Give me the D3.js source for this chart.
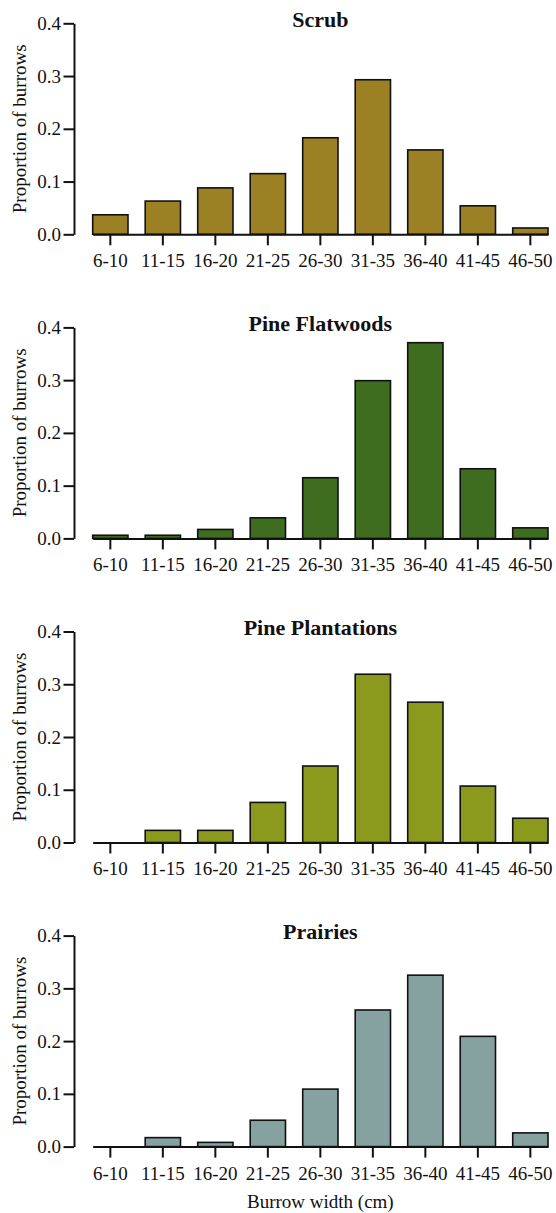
<!DOCTYPE html>
<html>
<head>
<meta charset="utf-8">
<script src="https://cdn.jsdelivr.net/npm/d3@7"></script>
<style>
  html, body { margin: 0; padding: 0; background: #fff; }
  svg { display: block; }
  text { font-family: "Liberation Serif", "Times New Roman", serif; fill: #111; }
</style>
</head>
<body>
<script>
// ---- data ----
const categories = ["6-10","11-15","16-20","21-25","26-30","31-35","36-40","41-45","46-50"];
const habitats = ["Scrub","Pine Flatwoods","Pine Plantations","Prairies"];
const scrubValues       = [0.037,0.063,0.088,0.115,0.183,0.293,0.160,0.054,0.012];
const flatwoodsValues   = [0.006,0.006,0.017,0.039,0.115,0.299,0.371,0.132,0.020];
const plantationValues  = [0.000,0.023,0.023,0.076,0.145,0.319,0.266,0.107,0.046];
const prairieValues     = [0.000,0.017,0.008,0.050,0.109,0.259,0.325,0.209,0.026];
const seriesValues = [scrubValues, flatwoodsValues, plantationValues, prairieValues];
const yTicks = [0, 0.1, 0.2, 0.3, 0.4];
const yTitle = "Proportion of burrows";
const xTitle = "Burrow width (cm)";

// ---- styles / layout ----
const colors = ["#9b8024", "#3e6d1f", "#8b9a1c", "#86a2a0"];
const W = 556, H = 1213;
const axisX = 74;
const barLeft = 92.7, barRight = 548;
const panelTop0 = 23.3, panelStep = 304.1, panelH = 211;

const svg = d3.select("body").append("svg").attr("width", W).attr("height", H);

const x = d3.scaleBand().domain(categories).range([barLeft, barRight])
  .paddingInner(0.328).paddingOuter(0);

habitats.forEach((name, i) => {
  const top = panelTop0 + i * panelStep;
  const bottom = top + panelH;
  const y = d3.scaleLinear().domain([0, 0.4]).range([bottom, top]);
  const g = svg.append("g");

  // bars
  const data = categories.map((c, j) => ({c, v: seriesValues[i][j]})).filter(d => d.v > 0);
  g.selectAll("rect").data(data).join("rect")
    .attr("x", d => x(d.c))
    .attr("y", d => y(d.v))
    .attr("width", x.bandwidth())
    .attr("height", d => y(0) - y(d.v))
    .attr("fill", colors[i])
    .attr("stroke", "#111")
    .attr("stroke-width", 1.6);

  // y axis
  const ya = g.append("g").attr("transform", `translate(${axisX},0)`)
    .call(d3.axisLeft(y).tickValues(yTicks).tickFormat(d3.format(".1f"))
      .tickSize(10.5).tickPadding(2.5).tickSizeOuter(0));
  ya.select(".domain").attr("stroke", "#111").attr("stroke-width", 2);
  ya.selectAll(".tick line").attr("stroke", "#111").attr("stroke-width", 2);
  ya.selectAll(".tick text").attr("font-size", 19).attr("font-family", "Liberation Serif, serif").attr("fill", "#111");

  // x axis
  const xa = g.append("g").attr("transform", `translate(0,${bottom})`)
    .call(d3.axisBottom(x).tickSize(11).tickPadding(8.5).tickSizeOuter(0));
  xa.select(".domain").attr("stroke", "#111").attr("stroke-width", 2);
  xa.selectAll(".tick line").attr("stroke", "#111").attr("stroke-width", 2);
  xa.selectAll(".tick text").attr("font-size", 19).attr("font-family", "Liberation Serif, serif").attr("fill", "#111");

  // title
  g.append("text")
    .attr("x", (barLeft + barRight) / 2)
    .attr("y", top + 3.3)
    .attr("text-anchor", "middle")
    .attr("font-size", 22)
    .attr("font-weight", "bold")
    .text(name);

  // y title
  g.append("text")
    .attr("transform", `translate(26,${(top + bottom) / 2}) rotate(-90)`)
    .attr("text-anchor", "middle")
    .attr("font-size", 19)
    .text(yTitle);
});

svg.append("text")
  .attr("x", (barLeft + barRight) / 2)
  .attr("y", 1208)
  .attr("text-anchor", "middle")
  .attr("font-size", 19)
  .text(xTitle);
</script>
</body>
</html>
